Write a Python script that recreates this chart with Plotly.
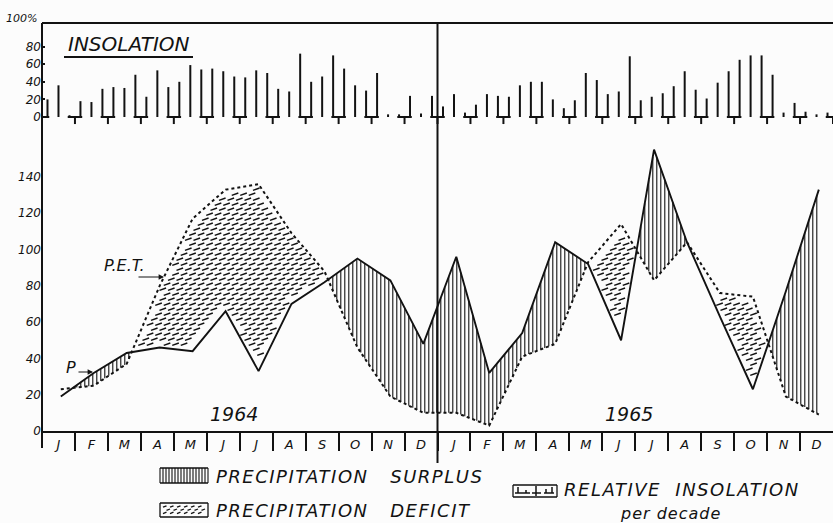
import numpy as np
import plotly.graph_objects as go

# ---------------------------------------------------------------- data
months = ["J", "F", "M", "A", "M", "J", "J", "A", "S", "O", "N", "D"]
years = ["1964", "1965"]

# monthly precipitation P (mm)
precip_1964 = [19, 32, 43, 46, 44, 66, 33, 70, 82, 95, 83, 48]
precip_1965 = [96, 32, 54, 104, 92, 50, 155, 104, 63, 23, 77, 133]

# monthly potential evapotranspiration P.E.T. (mm)
pet_1964 = [23, 25, 37, 80, 117, 133, 136, 109, 88, 46, 19, 10]
pet_1965 = [10, 3, 41, 48, 93, 114, 83, 104, 76, 74, 19, 9]

# relative insolation per decade (10-day period), % of possible
insol_1964 = [20, 36, 2, 18, 17, 32, 34, 33, 48, 23, 53, 34,
              40, 59, 54, 55, 52, 46, 45, 53, 50, 32, 29, 72,
              40, 46, 70, 55, 36, 30, 50, 3, 3, 24, 4, 24]
insol_1965 = [12, 26, 5, 14, 26, 24, 23, 36, 40, 40, 20, 10,
              19, 50, 42, 26, 29, 69, 19, 23, 27, 35, 52, 31,
              21, 39, 52, 65, 70, 70, 48, 5, 16, 6, 3, 5]

insol_ticks = [0, 20, 40, 60, 80]
main_ticks = [0, 20, 40, 60, 80, 100, 120, 140]

# ---------------------------------------------------------------- geometry
W, H = 833, 523
ML, MR, MT, MB = 42, 0, 23, 92
PW, PH = W - ML - MR, H - MT - MB
N_MONTHS = 24

MAIN_TOP_PX = 130          # top of the P / PET panel
MAIN_RANGE = [0, (H - MB - MAIN_TOP_PX) / 1.815]
INS_BOTTOM_PX = 131        # bottom of the insolation panel
INS_ZERO_PX = 117
INS_SCALE = 0.88           # px per percent
INS_RANGE = [-(INS_BOTTOM_PX - INS_ZERO_PX) / INS_SCALE,
             (INS_ZERO_PX - MT) / INS_SCALE]

INK = "#121212"
FONT = "DejaVu Sans"
NB = "\u00a0"


def pxx(px):
    return (px - ML) / PW


def pxy(py):
    return (H - MB - py) / PH


month_px = PW / N_MONTHS
mm_px = (H - MB - MAIN_TOP_PX) / MAIN_RANGE[1]

xs = np.arange(N_MONTHS) + 0.57
P = np.array(precip_1964 + precip_1965, float)
E = np.array(pet_1964 + pet_1965, float)

fig = go.Figure()

# ---------------------------------------------------------------- surplus hatching (P above PET)
xh = np.arange(xs[0], xs[-1] + 1e-9, 4.0 / month_px)
hx, hy = [], []
for x in xh:
    p = np.interp(x, xs, P)
    e = np.interp(x, xs, E)
    if p > e + 0.8:
        hx += [x, x, None]
        hy += [e, p, None]
fig.add_trace(go.Scatter(x=hx, y=hy, mode="lines", line=dict(color=INK, width=1.1),
                         hoverinfo="skip", showlegend=False))

# ---------------------------------------------------------------- deficit dashes (PET above P)
dx = 8.5 / month_px
dy = 5.0 / mm_px
half = 3.0 / month_px
margin = 2.0
dash_x, dash_y = [], []
for i, yv in enumerate(np.arange(1.0, MAIN_RANGE[1], dy)):
    off = (i % 2) * dx / 2
    for xv in np.arange(xs[0] + off, xs[-1], dx):
        ok = True
        for xx in (xv - half, xv, xv + half):
            if xx < xs[0] or xx > xs[-1]:
                ok = False
                break
            p = np.interp(xx, xs, P)
            e = np.interp(xx, xs, E)
            if not (p + margin < yv < e - margin):
                ok = False
                break
        if ok:
            dash_x.append(xv)
            dash_y.append(yv)
fig.add_trace(go.Scatter(x=dash_x, y=dash_y, mode="markers",
                         marker=dict(symbol="line-ew", size=5, angle=-20,
                                     line=dict(color=INK, width=1.5)),
                         hoverinfo="skip", showlegend=False))

# ---------------------------------------------------------------- P and PET curves
fig.add_trace(go.Scatter(x=xs, y=E, mode="lines", line=dict(color=INK, width=2, dash="dot"),
                         hoverinfo="skip", showlegend=False))
fig.add_trace(go.Scatter(x=xs, y=P, mode="lines", line=dict(color=INK, width=1.9),
                         hoverinfo="skip", showlegend=False))

# ---------------------------------------------------------------- insolation per decade
ins = insol_1964 + insol_1965
dec_x = [m + f for m in range(N_MONTHS) for f in (1 / 6, 1 / 2, 5 / 6)]
bx, by = [], []
for x, v in zip(dec_x, ins):
    bx += [x, x, None]
    by += [0, v, None]
fig.add_trace(go.Scatter(x=bx, y=by, mode="lines", line=dict(color=INK, width=2),
                         xaxis="x", yaxis="y2", hoverinfo="skip", showlegend=False))

fx, fy = [], []
for b in range(N_MONTHS + 1):
    fx += [max(b - 0.22, 0), min(b + 0.22, N_MONTHS), None]
    fy += [0, 0, None]
    if 0 < b:
        fx += [b, b, None]
        fy += [0, -8, None]
fig.add_trace(go.Scatter(x=fx, y=fy, mode="lines", line=dict(color=INK, width=2),
                         xaxis="x", yaxis="y2", hoverinfo="skip", showlegend=False))

# ---------------------------------------------------------------- frame lines
shapes = []


def seg(x0, y0, x1, y1, w=2):
    shapes.append(dict(type="line", xref="paper", yref="paper",
                       x0=pxx(x0), y0=pxy(y0), x1=pxx(x1), y1=pxy(y1),
                       line=dict(color=INK, width=w)))


seg(ML, MT, ML, 448)               # left axis
seg(ML, MT, W + 2, MT)             # top frame
seg(ML + PW / 2, MT, ML + PW / 2, 463)  # year divider
seg(64, 57, 193, 57)               # underline of INSOLATION

# legend: surplus swatch
SX0, SX1 = 160, 208
seg(SX0, 468, SX1, 468, 1.3)
seg(SX0, 483, SX1, 483, 1.3)
for xq in np.arange(SX0, SX1 + 0.1, 3.0):
    seg(xq, 468, xq, 483, 1.1)
# legend: deficit swatch
DY0, DY1 = 503, 517
seg(SX0, DY0, SX1, DY0, 1.3)
seg(SX0, DY1, SX1, DY1, 1.3)
seg(SX0, DY0, SX0, DY1, 1.3)
seg(SX1, DY0, SX1, DY1, 1.3)
for r, yq in enumerate(np.arange(DY0 + 3.5, DY1 - 1, 3.2)):
    for xq in np.arange(163 + (r % 2) * 3.5, SX1 - 4, 7):
        seg(xq, yq + 0.7, xq + 3.5, yq - 0.7, 1.3)
# legend: insolation swatch
IX0, IX1, IY0, IY1 = 513, 557, 485, 497
for a, b_ in [((IX0, IY0), (IX1, IY0)), ((IX0, IY1), (IX1, IY1)),
              ((IX0, IY0), (IX0, IY1)), ((IX1, IY0), (IX1, IY1))]:
    seg(a[0], a[1], b_[0], b_[1], 1.3)
for xq, top in [(518, 487), (526, 490), (536, 486), (546, 489), (552, 487)]:
    seg(xq, top, xq, 493, 1.5)
seg(515, 493, 530, 493, 1.5)
seg(532, 493, 541, 493, 1.5)
seg(536, 493, 536, 496, 1.5)
seg(544, 493, 554, 493, 1.5)

# ---------------------------------------------------------------- annotations
ann = []


def text(s, x, y, size, xanchor="center", yanchor="middle", spacing=0.0):
    if spacing:
        s = '<span style="letter-spacing:%.1fpx">%s</span>' % (spacing, s)
    ann.append(dict(text=s, xref="paper", yref="paper", x=pxx(x), y=pxy(y),
                    xanchor=xanchor, yanchor=yanchor, showarrow=False,
                    font=dict(family=FONT, size=size, color=INK, style="italic")))


text("100%", 21, 18, 11)
text("INSOLATION", 129, 44, 20)
text(years[0], 234, 414, 19)
text(years[1], 629, 414, 19)
text("P.E.T.", 124, 265, 16)
text("P", 71, 367, 16)
text("PRECIPITATION" + NB * 3 + "SURPLUS", 214, 476, 18, xanchor="left", spacing=1.5)
text("PRECIPITATION" + NB * 3 + "DEFICIT", 214, 510, 18, xanchor="left", spacing=1.5)
text("RELATIVE" + NB * 2 + "INSOLATION", 562, 489, 18, xanchor="left", spacing=1.5)
text("per decade", 670, 513, 16, spacing=1.0)

# arrows for the curve labels
for (x0, x1, y) in [(137, 164, 277), (77, 93, 372)]:
    ann.append(dict(xref="paper", yref="paper", x=pxx(x1), y=pxy(y),
                    ax=-(x1 - x0), ay=0, axref="pixel", ayref="pixel",
                    text="", showarrow=True, arrowhead=2, arrowsize=0.9,
                    arrowwidth=1.2, arrowcolor=INK))

tick_font = dict(family=FONT, size=12, color=INK, style="italic")

fig.update_layout(
    width=W, height=H,
    margin=dict(l=ML, r=MR, t=MT, b=MB),
    paper_bgcolor="#fcfcfc", plot_bgcolor="rgba(0,0,0,0)",
    showlegend=False,
    shapes=shapes,
    annotations=ann,
    xaxis=dict(range=[0, N_MONTHS], domain=[0, 1], anchor="y",
               showgrid=False, zeroline=False,
               showline=True, linecolor=INK, linewidth=2,
               tickmode="array",
               tickvals=[m + 0.5 for m in range(N_MONTHS)],
               ticktext=months * 2,
               ticks="", tickfont=dict(family=FONT, size=13, color=INK, style="italic"),
               minor=dict(tickmode="array", tickvals=list(range(1, N_MONTHS)),
                          ticks="outside", ticklen=18, tickwidth=2, tickcolor=INK)),
    yaxis=dict(range=MAIN_RANGE, domain=[0, pxy(MAIN_TOP_PX)],
               showgrid=False, zeroline=False, showline=False,
               tickmode="array", tickvals=main_ticks, ticks="",
               tickfont=tick_font),
    yaxis2=dict(range=INS_RANGE, domain=[pxy(INS_BOTTOM_PX), 1], anchor="x",
                showgrid=False, zeroline=False, showline=False,
                tickmode="array", tickvals=insol_ticks,
                ticks="inside", ticklen=3, tickwidth=1.5, tickcolor=INK,
                tickfont=tick_font),
)

fig.write_html("out.html")
